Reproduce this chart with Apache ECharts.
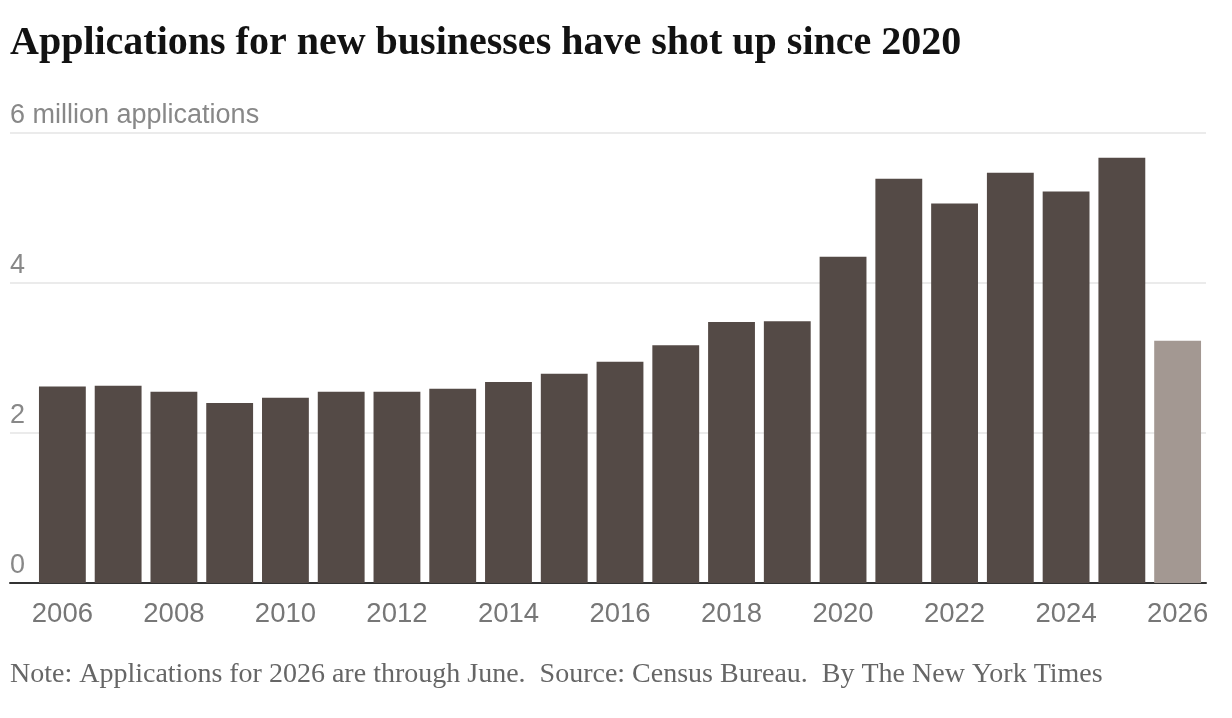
<!DOCTYPE html>
<html>
<head>
<meta charset="utf-8">
<script src="https://cdn.jsdelivr.net/npm/echarts@6/dist/echarts.min.js"></script>
<style>
html,body{margin:0;padding:0;background:#fff;}
#chart{width:1232px;height:718px;}
</style>
</head>
<body>
<div id="chart"></div>
<script>
const years = ['2006','2007','2008','2009','2010','2011','2012','2013','2014','2015','2016','2017','2018','2019','2020','2021','2022','2023','2024','2025','2026'];
const applications = [2.62,2.63,2.55,2.40,2.47,2.55,2.55,2.59,2.68,2.79,2.95,3.17,3.48,3.49,4.35,5.39,5.06,5.47,5.22,5.67,3.23];
const partialYear = '2026';
const yTicks = [0,2,4,6];

const dark = '#544a46';
const light = '#a39892';

const chart = echarts.init(document.getElementById('chart'));
chart.setOption({
  animation: false,
  backgroundColor: '#fff',
  title: [
    {
      text: 'Applications for new businesses have shot up since 2020',
      left: 10, top: 24, padding: 0,
      textStyle: {fontFamily: 'Liberation Serif', fontWeight: 'bold', fontSize: 40, color: '#121212'}
    },
    {
      text: 'Note: Applications for 2026 are through June.  Source: Census Bureau.  By The New York Times',
      left: 10, top: 661, padding: 0,
      textStyle: {fontFamily: 'Liberation Serif', fontWeight: 'normal', fontSize: 28, color: '#666'}
    }
  ],
  grid: [
    {left: 10, right: 26, top: 133, bottom: 135},
    {left: 34.5, right: 26.5, top: 133, bottom: 135}
  ],
  xAxis: [
    {
      gridIndex: 0, type: 'value', min: 0, max: 1,
      axisLine: {show: true, lineStyle: {color: '#333', width: 2}},
      axisTick: {show: false}, axisLabel: {show: false}, splitLine: {show: false}
    },
    {
      gridIndex: 1, type: 'category', data: years,
      axisLine: {show: false}, axisTick: {show: false},
      axisLabel: {interval: 1, margin: 17, color: '#777', fontFamily: 'Liberation Sans', fontSize: 27.5}
    }
  ],
  yAxis: [
    {
      gridIndex: 0, type: 'value', min: yTicks[0], max: yTicks[yTicks.length-1], interval: 2,
      axisLine: {show: false}, axisTick: {show: false},
      splitLine: {show: true, lineStyle: {color: '#e4e4e4', width: 1.5}},
      axisLabel: {
        inside: true, margin: 0, verticalAlign: 'bottom', padding: [0,0,4,0],
        color: '#888', fontFamily: 'Liberation Sans', fontSize: 27,
        formatter: v => v === 6 ? '6 million applications' : String(v)
      }
    },
    {
      gridIndex: 1, type: 'value', min: 0, max: 6, show: false
    }
  ],
  series: [{
    type: 'bar',
    xAxisIndex: 1, yAxisIndex: 1,
    barCategoryGap: '16%',
    data: applications.map((v, i) => years[i] === partialYear ? {value: v, itemStyle: {color: light}} : v),
    itemStyle: {color: dark},
    z: 3
  }]
});
</script>
</body>
</html>
